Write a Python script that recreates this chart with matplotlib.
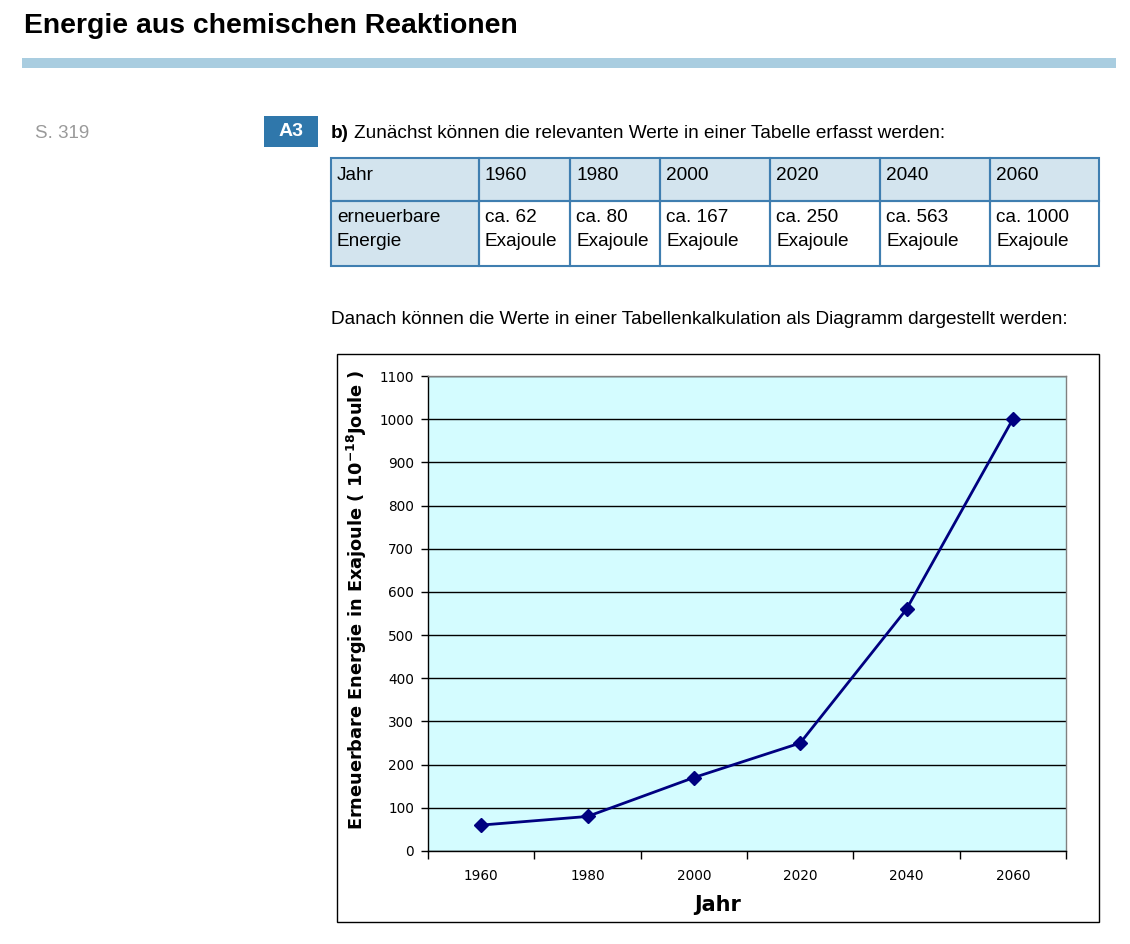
import matplotlib
matplotlib.use("Agg")
import matplotlib.pyplot as plt
from matplotlib.patches import Rectangle
from matplotlib.ticker import MultipleLocator, FixedLocator

# data
years = ["1960", "1980", "2000", "2020", "2040", "2060"]
energy = [60, 80, 170, 250, 560, 1000]
table_values = ["ca. 62", "ca. 80", "ca. 167", "ca. 250", "ca. 563", "ca. 1000"]

W, H = 1130, 944
fig = plt.figure(figsize=(W / 100, H / 100), dpi=100)

def fx(x):
    return x / W

def fy(y):
    return 1 - y / H

def rect(x0, y0, x1, y1, **kw):
    fig.patches.append(Rectangle((fx(x0), fy(y1)), fx(x1) - fx(x0), fy(y0) - fy(y1),
                                 transform=fig.transFigure, figure=fig, **kw))

txt = dict(family="Liberation Sans")
fs = 13.7

# header of the page
fig.text(fx(24), fy(26), "Energie aus chemischen Reaktionen", fontsize=20.4, weight="bold",
         va="center", **txt)
rect(22, 58, 1116, 68, facecolor="#a9cde0", edgecolor="none")

fig.text(fx(35), fy(133), "S. 319", fontsize=13.5, color="#9a9a9a", va="center", **txt)
rect(264, 116, 318, 147, facecolor="#2f77ab", edgecolor="none")
fig.text(fx(291), fy(132), "A3", fontsize=14, color="white", weight="bold",
         ha="center", va="center", **txt)
fig.text(fx(331), fy(133), "b)", fontsize=fs, weight="bold", va="center", **txt)
fig.text(fx(354), fy(133), "Zunächst können die relevanten Werte in einer Tabelle erfasst werden:",
         fontsize=fs, va="center", **txt)

# table
cols = [331, 479, 570, 660, 770, 880, 990, 1099]
rows = [158, 201, 266]
border = "#3f7eb0"
head_fill = "#d3e4ee"
rect(cols[0], rows[0], cols[-1], rows[1], facecolor=head_fill, edgecolor="none")
rect(cols[0], rows[1], cols[1], rows[2], facecolor=head_fill, edgecolor="none")
for i in range(len(cols) - 1):
    for j in range(len(rows) - 1):
        rect(cols[i], rows[j], cols[i + 1], rows[j + 1], facecolor="none",
             edgecolor=border, linewidth=1.5)

fig.text(fx(337), fy(176), "Jahr", fontsize=fs, va="center", **txt)
fig.text(fx(337), fy(218), "erneuerbare", fontsize=fs, va="center", **txt)
fig.text(fx(337), fy(241), "Energie", fontsize=fs, va="center", **txt)
for i, (yr, val) in enumerate(zip(years, table_values)):
    x = cols[i + 1] + 6
    fig.text(fx(x), fy(176), yr, fontsize=fs, va="center", **txt)
    fig.text(fx(x), fy(218), val, fontsize=fs, va="center", **txt)
    fig.text(fx(x), fy(241), "Exajoule", fontsize=fs, va="center", **txt)

fig.text(fx(331), fy(320), "Danach können die Werte in einer Tabellenkalkulation als Diagramm dargestellt werden:",
         fontsize=fs, va="center", **txt)

# chart frame
rect(337, 354, 1099, 922, facecolor="none", edgecolor="black", linewidth=1)

ax = fig.add_axes([fx(428), fy(851), fx(1066) - fx(428), fy(376) - fy(851)])
ax.set_facecolor("#d4fcff")
x = list(range(len(years)))
ax.plot(x, energy, color="#000080", linewidth=2, marker="D", markersize=7.5, zorder=3)

ax.set_xlim(-0.5, len(years) - 0.5)
ax.set_ylim(0, 1100)
ax.yaxis.set_major_locator(MultipleLocator(100))
ax.set_xticks(x)
ax.set_xticklabels(years)
ax.xaxis.set_minor_locator(FixedLocator([i - 0.5 for i in range(len(years) + 1)]))
ax.tick_params(axis="x", which="major", length=0, pad=13, labelsize=9.8)
ax.tick_params(axis="x", which="minor", length=6, direction="out", width=1)
ax.tick_params(axis="y", length=5, direction="out", width=1, labelsize=9.8, pad=5)
ax.grid(axis="y", color="black", linewidth=1)
ax.set_axisbelow(True)
for side in ["top", "right"]:
    ax.spines[side].set_color("#808080")
    ax.spines[side].set_linewidth(1)
ax.spines["left"].set_linewidth(1)
ax.spines["bottom"].set_linewidth(1)

fig.text(fx(718), fy(905), "Jahr", fontsize=15, weight="bold", ha="center", va="center")
fig.text(fx(357), fy(600), "Erneuerbare Energie in Exajoule ( 10$^{\\mathbf{-18}}$Joule )",
         fontsize=12.8, weight="bold", rotation=90, ha="center", va="center")

fig.savefig("out.png", dpi=100)
